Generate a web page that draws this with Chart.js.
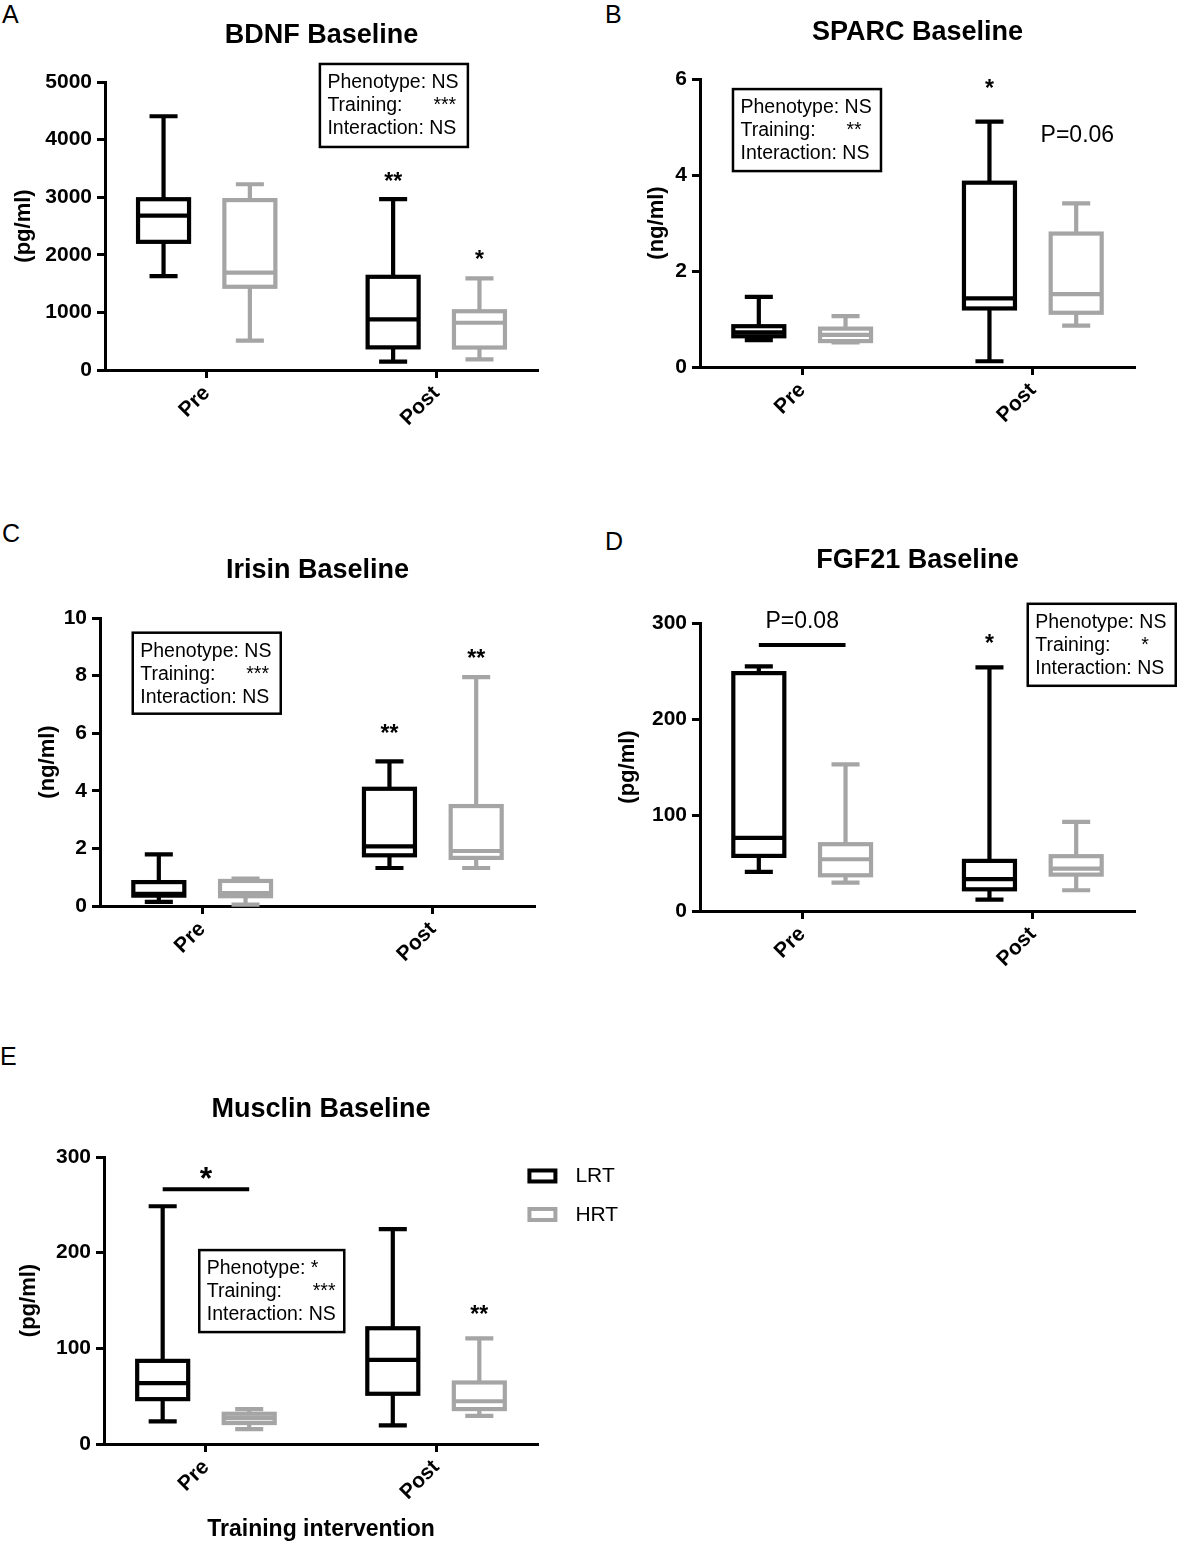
<!DOCTYPE html>
<html>
<head>
<meta charset="utf-8">
<title>Myokine box plots</title>
<script src="https://cdn.jsdelivr.net/npm/chart.js@4.4.1/dist/chart.umd.min.js"></script>
<style>
  body { margin: 0; background: #fff; }
  #page { position: relative; width: 1177px; height: 1543px; overflow: hidden; }
  #page canvas { position: absolute; }
  .letter { position: absolute; font: 25px 'Liberation Sans', Arial, sans-serif; line-height: 1; color: #000; }
</style>
</head>
<body>
<div id="page">
  <div class="letter" style="left:2px;top:2px">A</div>
  <div class="letter" style="left:605px;top:2px">B</div>
  <div class="letter" style="left:2px;top:521px">C</div>
  <div class="letter" style="left:605px;top:529px">D</div>
  <div class="letter" style="left:0px;top:1044px">E</div>
</div>
<script>
const timepoints = ['Pre', 'Post'];
const groups = ['LRT', 'HRT'];

// box stats for each timepoint: [min, Q1, median, Q3, max]
const bdnfLRT = [[1630, 2225, 2680, 2965, 4405], [145, 393, 880, 1618, 2965]];
const bdnfHRT = [[510, 1445, 1690, 2950, 3225], [185, 390, 820, 1020, 1590]];
const sparcLRT = [[0.56, 0.64, 0.72, 0.85, 1.46], [0.12, 1.22, 1.43, 3.84, 5.11]];
const sparcHRT = [[0.51, 0.54, 0.67, 0.80, 1.06], [0.86, 1.13, 1.52, 2.78, 3.41]];
const irisinLRT = [[0.14, 0.36, 0.42, 0.83, 1.79], [1.32, 1.76, 2.07, 4.07, 5.02]];
const irisinHRT = [[0.05, 0.34, 0.45, 0.87, 0.95], [1.32, 1.67, 1.91, 3.47, 7.95]];
const fgf21LRT = [[40.7, 57.4, 76.2, 247.8, 254.8], [11.8, 22.6, 33.1, 52.2, 253.7]];
const fgf21HRT = [[29.6, 37.2, 53.9, 69.6, 152.8], [21.6, 37.9, 44.2, 57.1, 92.9]];
const musclinLRT = [[23.6, 46.9, 63.6, 86.9, 248.5], [19.5, 52.5, 87.9, 121, 224.6]];
const musclinHRT = [[15.6, 21.9, 27.1, 31.6, 36.5], [29.5, 36.5, 44.7, 64.3, 110.5]];

// two-way ANOVA: phenotype, training, interaction
const bdnfAnova = ['NS', '***', 'NS'];
const sparcAnova = ['NS', '**', 'NS'];
const irisinAnova = ['NS', '***', 'NS'];
const fgf21Anova = ['NS', '*', 'NS'];
const musclinAnova = ['*', '***', 'NS'];

// y tick labels
const bdnfTicks = [0, 1000, 2000, 3000, 4000, 5000];
const sparcTicks = [0, 2, 4, 6];
const irisinTicks = [0, 2, 4, 6, 8, 10];
const fgf21Ticks = [0, 100, 200, 300];
const musclinTicks = [0, 100, 200, 300];

const FONT = "'Liberation Sans', Arial, sans-serif";
const BLACK = '#000000';
const GREY = '#a5a5a5';
const groupColors = [BLACK, GREY];
const groupOffsets = [-0.188, 0.188];

const panels = [
  {
    id: 'bdnf', title: 'BDNF Baseline', yTitle: '(pg/ml)', series: [bdnfLRT, bdnfHRT], yTicks: bdnfTicks,
    canvas: [0, 0, 588, 460], area: [105, 82, 538, 370], titleY: 36, yTitleX: 24,
    notes: [
      { type: 'anova', x: 0.493, y: 5313, w: 148, h: 83, values: bdnfAnova },
      { type: 'star', x: 0.812, y: 3368, text: '**' },
      { type: 'star', x: 1.188, y: 2014, text: '*' }
    ]
  },
  {
    id: 'sparc', title: 'SPARC Baseline', yTitle: '(ng/ml)', series: [sparcLRT, sparcHRT], yTicks: sparcTicks,
    canvas: [588, 0, 589, 460], area: [700, 79, 1135, 367], titleY: 33, yTitleX: 657,
    notes: [
      { type: 'anova', x: -0.30, y: 5.79, w: 148, h: 82, values: sparcAnova },
      { type: 'star', x: 0.812, y: 5.92, text: '*' },
      { type: 'text', x: 1.193, y: 4.81, text: 'P=0.06' }
    ]
  },
  {
    id: 'irisin', title: 'Irisin Baseline', yTitle: '(ng/ml)', series: [irisinLRT, irisinHRT], yTicks: irisinTicks,
    canvas: [0, 520, 588, 460], area: [100, 618, 535, 906], titleY: 571, yTitleX: 48,
    notes: [
      { type: 'anova', x: -0.301, y: 9.49, w: 148, h: 81, values: irisinAnova },
      { type: 'star', x: 0.812, y: 6.18, text: '**' },
      { type: 'star', x: 1.188, y: 8.78, text: '**' }
    ]
  },
  {
    id: 'fgf21', title: 'FGF21 Baseline', yTitle: '(pg/ml)', series: [fgf21LRT, fgf21HRT], yTicks: fgf21Ticks,
    canvas: [588, 520, 589, 460], area: [700, 623, 1135, 911], titleY: 561, yTitleX: 628,
    notes: [
      { type: 'anova', x: 0.978, y: 320, w: 148, h: 82, values: fgf21Anova },
      { type: 'text', x: 0, y: 301.7, text: 'P=0.08' },
      { type: 'bar', x1: -0.188, x2: 0.188, y: 277 },
      { type: 'star', x: 0.812, y: 284.7, text: '*' }
    ]
  },
  {
    id: 'musclin', title: 'Musclin Baseline', yTitle: '(pg/ml)', series: [musclinLRT, musclinHRT], yTicks: musclinTicks,
    canvas: [0, 1030, 660, 513], area: [104, 1157, 538, 1444], titleY: 1110, yTitleX: 29,
    xTitle: 'Training intervention',
    notes: [
      { type: 'anova', x: -0.029, y: 202.7, w: 145, h: 82, values: musclinAnova },
      { type: 'star', x: 0, y: 286, text: '*', size: 32 },
      { type: 'bar', x1: -0.188, x2: 0.188, y: 266.3 },
      { type: 'star', x: 1.188, y: 141, text: '**' },
      { type: 'legend', x: 1.397, y: 288 }
    ]
  }
];

// whiskers, box outline and median drawn from the bar elements and the y scale
const boxPlugin = {
  id: 'boxOutline',
  afterDatasetsDraw(chart) {
    const ctx = chart.ctx;
    const ys = chart.scales.y;
    chart.data.datasets.forEach((ds, di) => {
      chart.getDatasetMeta(di).data.forEach((bar, i) => {
        const s = ds.data[i].stats;
        const half = bar.width / 2;
        const cap = bar.width * 0.275;
        const py = v => ys.getPixelForValue(v);
        ctx.save();
        ctx.strokeStyle = ds.borderColor;
        ctx.lineWidth = 4.2;
        ctx.beginPath();
        ctx.moveTo(bar.x, py(s[3])); ctx.lineTo(bar.x, py(s[4]));
        ctx.moveTo(bar.x, py(s[1])); ctx.lineTo(bar.x, py(s[0]));
        ctx.moveTo(bar.x - cap, py(s[4])); ctx.lineTo(bar.x + cap, py(s[4]));
        ctx.moveTo(bar.x - cap, py(s[0])); ctx.lineTo(bar.x + cap, py(s[0]));
        ctx.moveTo(bar.x - half, py(s[2])); ctx.lineTo(bar.x + half, py(s[2]));
        ctx.stroke();
        ctx.strokeRect(bar.x - half, bar.y, bar.width, bar.base - bar.y);
        ctx.restore();
      });
    });
  }
};

function drawNotes(chart, p) {
  const ctx = chart.ctx;
  const xs = chart.scales.x, ys = chart.scales.y;
  const X = v => xs.getPixelForValue(v);
  const Y = v => ys.getPixelForValue(v);
  const area = chart.chartArea;
  ctx.save();
  ctx.fillStyle = BLACK;
  ctx.strokeStyle = BLACK;

  // panel title
  ctx.font = `bold 27px ${FONT}`;
  ctx.textAlign = 'center';
  ctx.textBaseline = 'middle';
  ctx.fillText(p.title, (area.left + area.right) / 2, p.titleY - p.canvas[1]);

  p.notes.forEach(n => {
    if (n.type === 'anova') {
      const l = X(n.x), t = Y(n.y);
      ctx.lineWidth = 2.5;
      ctx.strokeRect(l, t, n.w, n.h);
      ctx.font = `19.5px ${FONT}`;
      ctx.textAlign = 'left';
      ctx.textBaseline = 'middle';
      ctx.fillText('Phenotype: ' + n.values[0], l + 7.5, t + 18.5);
      ctx.fillText('Training:', l + 7.5, t + 41.5);
      ctx.fillText(n.values[1], l + 113.5, t + 41.5);
      ctx.fillText('Interaction: ' + n.values[2], l + 7.5, t + 64.5);
    } else if (n.type === 'star') {
      const size = n.size || 23;
      ctx.font = `bold ${size}px ${FONT}`;
      ctx.textAlign = 'center';
      ctx.textBaseline = 'alphabetic';
      ctx.fillText(n.text, X(n.x), Y(n.y) + size * 0.58);
    } else if (n.type === 'text') {
      ctx.font = `23px ${FONT}`;
      ctx.textAlign = 'center';
      ctx.textBaseline = 'middle';
      ctx.fillText(n.text, X(n.x), Y(n.y));
    } else if (n.type === 'bar') {
      ctx.lineWidth = 4;
      ctx.beginPath();
      ctx.moveTo(X(n.x1), Y(n.y));
      ctx.lineTo(X(n.x2), Y(n.y));
      ctx.stroke();
    } else if (n.type === 'legend') {
      const l = X(n.x), t = Y(n.y);
      chart.data.datasets.forEach((ds, i) => {
        const top = t + i * 38.5;
        ctx.strokeStyle = ds.borderColor;
        ctx.lineWidth = 4;
        ctx.strokeRect(l + 2, top + 2, 26, 11);
        ctx.fillStyle = BLACK;
        ctx.font = `21px ${FONT}`;
        ctx.textAlign = 'left';
        ctx.textBaseline = 'middle';
        ctx.fillText(ds.label, l + 48, top + 8);
      });
    }
  });
  ctx.restore();
}

const page = document.getElementById('page');

panels.forEach(p => {
  const [cx, cy, cw, ch] = p.canvas;
  const [left, top, right, bottom] = p.area;
  const canvas = document.createElement('canvas');
  canvas.id = p.id;
  canvas.width = cw;
  canvas.height = ch;
  canvas.style.left = cx + 'px';
  canvas.style.top = cy + 'px';
  page.appendChild(canvas);

  const yAxisWidth = left - cx;
  const xAxisHeight = cy + ch - bottom;
  const yTitleSize = 22;

  const datasets = groups.map((g, gi) => ({
    label: g,
    data: p.series[gi].map((s, i) => ({ x: i + groupOffsets[gi], y: [s[1], s[3]], stats: s })),
    backgroundColor: '#ffffff',
    borderColor: groupColors[gi],
    borderWidth: 0,
    barThickness: 51,
    grouped: false
  }));

  new Chart(canvas.getContext('2d'), {
    type: 'bar',
    data: { datasets },
    options: {
      responsive: false,
      animation: false,
      events: [],
      layout: { padding: { left: 0, top: top - cy, right: cx + cw - right, bottom: 0 } },
      plugins: { legend: { display: false }, tooltip: { enabled: false } },
      scales: {
        x: {
          type: 'linear',
          min: -0.443,
          max: 1.443,
          offset: false,
          afterBuildTicks: s => { s.ticks = timepoints.map((t, i) => ({ value: i })); },
          afterFit: s => { s.height = xAxisHeight; },
          ticks: {
            callback: v => timepoints[v],
            autoSkip: false,
            minRotation: 45,
            maxRotation: 45,
            padding: 3,
            color: BLACK,
            font: { family: FONT, size: 21, weight: 'bold' }
          },
          grid: { drawOnChartArea: false, offset: false, tickLength: 8, tickWidth: 3, color: BLACK },
          border: { color: BLACK, width: 3 },
          title: {
            display: !!p.xTitle,
            text: p.xTitle || '',
            color: BLACK,
            font: { family: FONT, size: 23, weight: 'bold' },
            padding: { top: 0, bottom: 0 }
          }
        },
        y: {
          min: 0,
          max: p.yTicks[p.yTicks.length - 1],
          afterBuildTicks: s => { s.ticks = p.yTicks.map(v => ({ value: v })); },
          afterFit: s => { s.width = yAxisWidth; },
          ticks: {
            callback: v => String(v),
            padding: 5,
            color: BLACK,
            font: { family: FONT, size: 21, weight: 'bold' }
          },
          grid: { drawOnChartArea: false, tickLength: 8, tickWidth: 3, color: BLACK },
          border: { color: BLACK, width: 3 },
          title: {
            display: true,
            text: p.yTitle,
            color: BLACK,
            font: { family: FONT, size: yTitleSize, weight: 'bold' },
            padding: { top: p.yTitleX - cx - yTitleSize * 0.6, bottom: 0 }
          }
        }
      }
    },
    plugins: [boxPlugin, { id: 'notes', afterDraw: chart => drawNotes(chart, p) }]
  });
});
</script>
</body>
</html>
